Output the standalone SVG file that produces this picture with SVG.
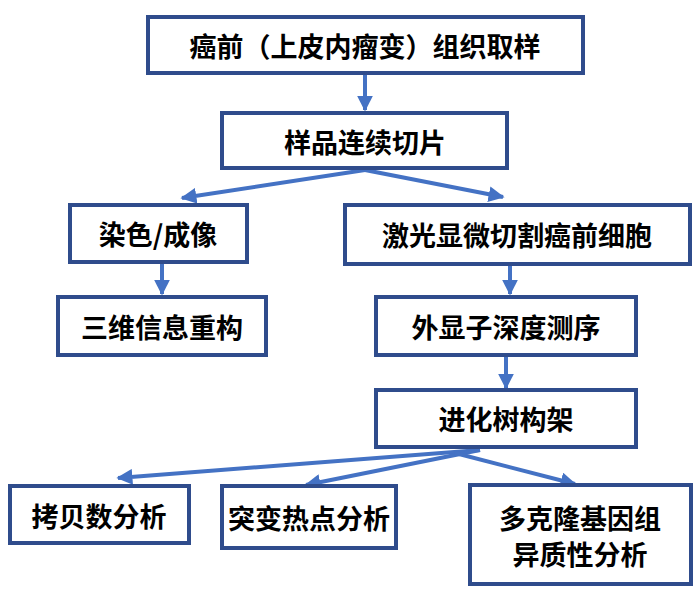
<svg xmlns="http://www.w3.org/2000/svg" width="700" height="592" viewBox="0 0 700 592">
<style>
.b{fill:#fff;stroke:#2F4C8C;stroke-width:4}
.t{font-family:"Noto Sans CJK SC",sans-serif;font-size:27px;font-weight:bold;fill:#000;text-anchor:middle;dominant-baseline:central}
.c{fill:none;stroke:#4472C4;stroke-width:4}
</style>
<defs><marker id="a" viewBox="0 0 10 10" refX="9" refY="5" markerWidth="4" markerHeight="4" orient="auto" markerUnits="strokeWidth"><path d="M0,0L10,5L0,10z" fill="#4472C4"/></marker></defs>
<rect width="700" height="592" fill="#fff"/>
<g id="connectors">
<path class="c" marker-end="url(#a)" d="M365,74V110"/>
<path class="c" marker-end="url(#a)" d="M365,170L182,198"/>
<path class="c" marker-end="url(#a)" d="M365,170L503,197"/>
<path class="c" marker-end="url(#a)" d="M162,263V294"/>
<path class="c" marker-end="url(#a)" d="M510,265V294"/>
<path class="c" marker-end="url(#a)" d="M506,356V388"/>
<path class="c" marker-end="url(#a)" d="M480,450L118,478"/>
<path class="c" marker-end="url(#a)" d="M480,450L306,485"/>
<path class="c" marker-end="url(#a)" d="M455,453L575,484"/>
</g>
<g id="n1"><rect class="b" x="148" y="17" width="435" height="56"/><text class="t" x="365" y="45">癌前（上皮内瘤变）组织取样</text></g>
<g id="n2"><rect class="b" x="222" y="113" width="285" height="55"/><text class="t" x="365" y="141">样品连续切片</text></g>
<g id="n3"><rect class="b" x="70" y="205" width="177" height="57"/><text class="t" x="158" y="233">染色/成像</text></g>
<g id="n4"><rect class="b" x="345" y="205" width="345" height="59"/><text class="t" x="517" y="234">激光显微切割癌前细胞</text></g>
<g id="n5"><rect class="b" x="58" y="297" width="208" height="58"/><text class="t" x="162" y="326">三维信息重构</text></g>
<g id="n6"><rect class="b" x="376" y="297" width="260" height="58"/><text class="t" x="506" y="326">外显子深度测序</text></g>
<g id="n7"><rect class="b" x="376" y="390" width="260" height="57"/><text class="t" x="506" y="418">进化树构架</text></g>
<g id="n8"><rect class="b" x="10" y="486" width="179" height="57"/><text class="t" x="99" y="515">拷贝数分析</text></g>
<g id="n9"><rect class="b" x="222" y="486" width="174" height="62"/><text class="t" x="309" y="517">突变热点分析</text></g>
<g id="n10"><rect class="b" x="470" y="485" width="221" height="99"/><text class="t" x="580" y="517">多克隆基因组</text><text class="t" x="580" y="553">异质性分析</text></g>
</svg>
